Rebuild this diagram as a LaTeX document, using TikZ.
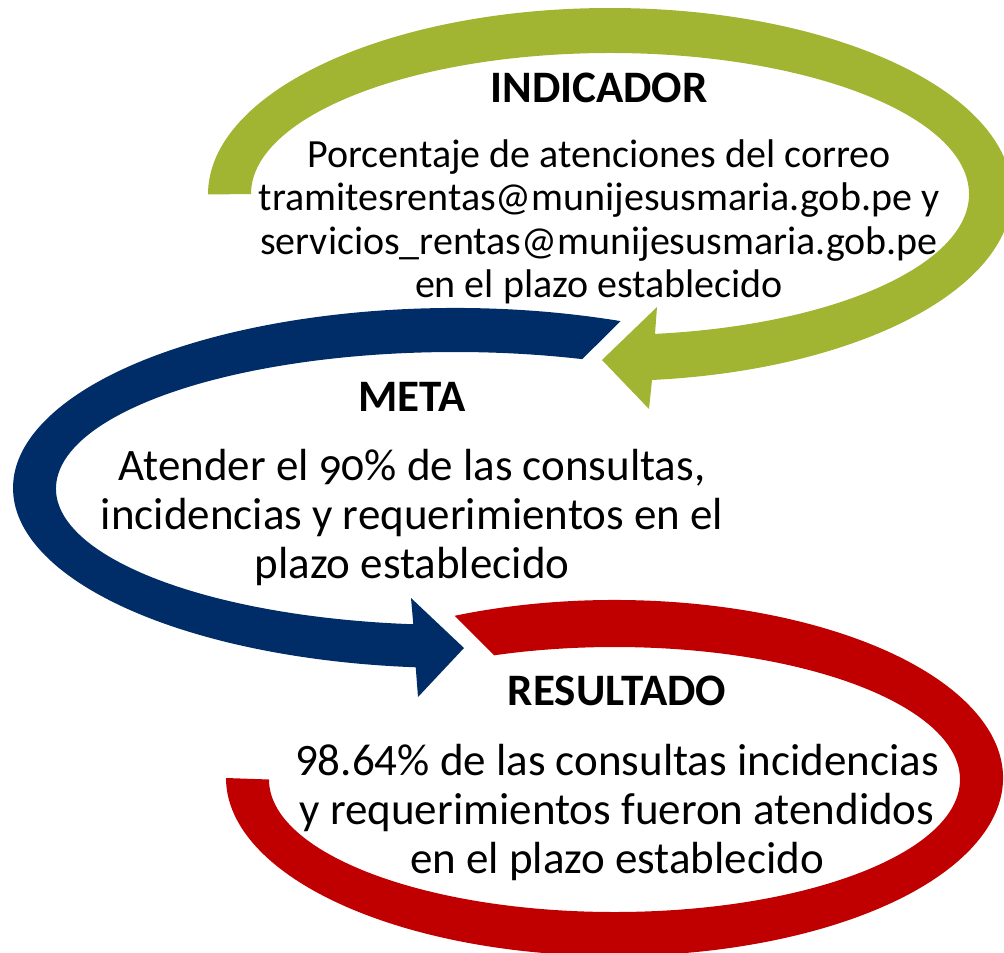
\documentclass[tikz,border=0pt]{standalone}
\usepackage{fontspec}
\setmainfont{Carlito}
\usetikzlibrary{calc}
\definecolor{agreen}{RGB}{162,181,50}
\definecolor{ablue}{RGB}{0,45,104}
\definecolor{ared}{RGB}{192,0,0}
\begin{document}
\begin{tikzpicture}[x=1pt,y=-1pt,
  head/.style={inner sep=0pt,anchor=base,font=\fontsize{45}{50}\selectfont\bfseries},
  indtxt/.style={inner sep=0pt,anchor=base,font=\fontsize{40}{43}\selectfont},
  bigtxt/.style={inner sep=0pt,anchor=base,font=\fontsize{45}{50}\selectfont}]
\useasboundingbox (0,0) rectangle (1004,953);
% ellipse centres
\coordinate (go) at (610,194.5);
\coordinate (gi) at (610,194);
\coordinate (bo) at (455,488);
\coordinate (bi) at (455,488.5);
\coordinate (ro) at (614.5,778);
\coordinate (ri) at (614.5,779.5);
% arrowheads
\coordinate (gb1) at (649,409);
\coordinate (gtip) at (602,360);
\coordinate (gb2) at (657,307);
\coordinate (bb1) at (418,697);
\coordinate (btip) at (464,648);
\coordinate (bb2) at (411,598);
% green band (INDICADOR)
\fill[agreen] ($(go)+(180:402 and 186.5)$)
  arc[start angle=180,end angle=444,x radius=402,y radius=186.5]
  -- (gb1) -- (gtip) -- (gb2)
  -- ($(gi)+(442.8:359 and 141)$)
  arc[start angle=442.8,end angle=180,x radius=359,y radius=141] -- cycle;
% blue band (META)
\fill[ablue] ($(bo)+(292:442 and 180)$)
  arc[start angle=292,end angle=95.1,x radius=442,y radius=180]
  -- (bb1) -- (btip) -- (bb2)
  -- ($(bi)+(96:399 and 136.5)$)
  arc[start angle=96,end angle=288.6,x radius=399,y radius=136.5] -- cycle;
% red band (RESULTADO)
\fill[ared] ($(ro)+(245.7:388.5 and 178)$)
  arc[start angle=245.7,end angle=540,x radius=388.5,y radius=178]
  -- ($(ri)+(540:345.5 and 132.5)$)
  arc[start angle=540,end angle=249.6,x radius=345.5,y radius=132.5] -- cycle;
% texts
\node[head] (indh) at (599,102) {INDICADOR};
\node[indtxt] (ind1) at (599,167) {Porcentaje de atenciones del correo};
\node[indtxt] (ind2) at (599,210.5) {tramitesrentas@munijesusmaria.gob.pe y};
\node[indtxt] (ind3) at (599,254) {servicios\_rentas@munijesusmaria.gob.pe};
\node[indtxt] (ind4) at (599,297.5) {en el plazo establecido};
\node[head] (metah) at (412,411) {META};
\node[bigtxt] (meta1) at (412,480) {\addfontfeatures{Numbers=OldStyle}Atender el 90\% de las consultas,};
\node[bigtxt] (meta2) at (412,529) {incidencias y requerimientos en el};
\node[bigtxt] (meta3) at (412,578) {plazo establecido};
\node[head] (resh) at (617,705) {RESULTADO};
\node[bigtxt] (res1) at (617,775) {98.64\% de las consultas incidencias};
\node[bigtxt] (res2) at (617,824) {y requerimientos fueron atendidos};
\node[bigtxt] (res3) at (617,873) {en el plazo establecido};
\end{tikzpicture}
\end{document}
